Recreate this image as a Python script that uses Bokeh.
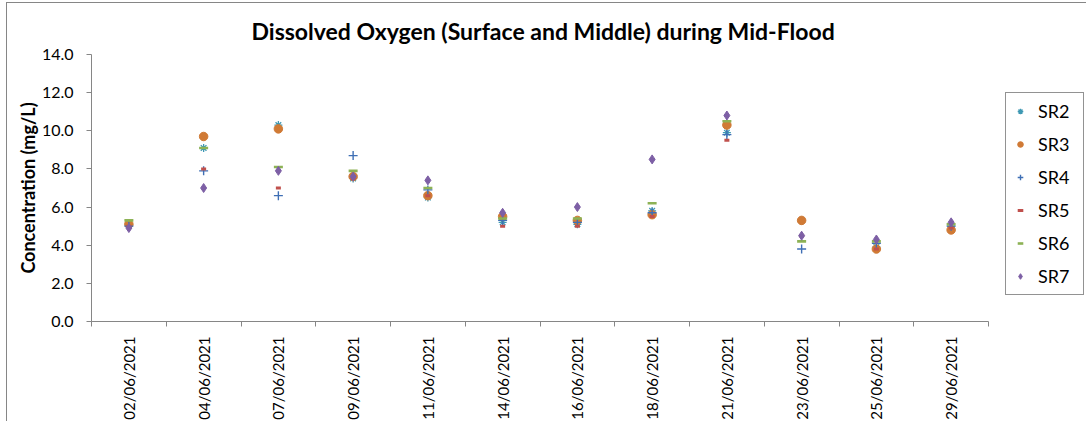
from bokeh.plotting import figure
from bokeh.models import Range1d, FixedTicker, PrintfTickFormatter, Legend, LegendItem, ColumnDataSource
from bokeh.embed import file_html
from bokeh.resources import INLINE
import math

dates = ["02/06/2021", "04/06/2021", "07/06/2021", "09/06/2021", "11/06/2021", "14/06/2021",
         "16/06/2021", "18/06/2021", "21/06/2021", "23/06/2021", "25/06/2021", "29/06/2021"]
SR2 = [5.1, 9.1, 10.3, 7.5, 6.5, 5.2, 5.1, 5.8, 9.9, 5.3, 3.9, 5.0]
SR3 = [5.1, 9.7, 10.1, 7.6, 6.6, 5.5, 5.3, 5.6, 10.3, 5.3, 3.8, 4.8]
SR4 = [5.0, 7.9, 6.6, 8.7, 6.9, 5.3, 5.2, 5.7, 9.8, 3.8, 4.1, 5.0]
SR5 = [5.0, 8.0, 7.0, 7.5, 6.6, 5.0, 5.0, 5.5, 9.5, 4.5, 3.8, 4.9]
SR6 = [5.3, 9.1, 8.1, 7.9, 7.0, 5.4, 5.4, 6.2, 10.5, 4.2, 4.2, 5.1]
SR7 = [4.9, 7.0, 7.9, 7.6, 7.4, 5.7, 6.0, 8.5, 10.8, 4.5, 4.3, 5.2]
series_names = ["SR2", "SR3", "SR4", "SR5", "SR6", "SR7"]
series_values = [SR2, SR3, SR4, SR5, SR6, SR7]
y_ticks = [0, 2, 4, 6, 8, 10, 12, 14]

FONT = "Lato"
AX = "#868686"

x = list(range(len(dates)))
n = len(dates)
# frame spans 994 px; the 12 category slots occupy the left 897 px, the rest holds the legend
x_end = -0.5 + n * 994 / 897

p = figure(width=1080, height=419, output_backend="svg", toolbar_location=None,
           x_range=Range1d(-0.5, x_end), y_range=Range1d(0, 14),
           min_border_left=84, min_border_right=2, min_border_top=51, min_border_bottom=98)
p.outline_line_color = None
p.xgrid.visible = False
p.ygrid.visible = False
p.background_fill_color = "white"

p.title.text = "Dissolved Oxygen (Surface and Middle) during Mid-Flood"
p.title.align = "left"
p.title.offset = 160
p.title.text_font = FONT
p.title.text_font_size = "23px"
p.title.text_font_style = "bold"
p.title.text_color = "black"
p.title.standoff = 20

# y axis
p.yaxis.ticker = FixedTicker(ticks=y_ticks)
p.yaxis.formatter = PrintfTickFormatter(format="%.1f")
p.yaxis.axis_line_color = AX
p.yaxis.major_tick_line_color = AX
p.yaxis.major_tick_out = 5
p.yaxis.major_tick_in = 0
p.yaxis.minor_tick_line_color = None
p.yaxis.major_label_text_font = FONT
p.yaxis.major_label_text_font_size = "16px"
p.yaxis.major_label_text_color = "black"
p.yaxis.major_label_standoff = 13
p.yaxis.axis_label = "Concentration (mg/L)"
p.yaxis.axis_label_text_font = FONT
p.yaxis.axis_label_text_font_size = "18px"
p.yaxis.axis_label_text_font_style = "bold"
p.yaxis.axis_label_text_color = "black"
p.yaxis.axis_label_standoff = 0

# x axis
p.xaxis.bounds = (-0.5, n - 0.5)
p.xaxis.ticker = FixedTicker(ticks=x, minor_ticks=[i - 0.5 for i in range(n + 1)])
p.xaxis.major_label_overrides = {i: d for i, d in enumerate(dates)}
p.xaxis.major_label_orientation = math.pi / 2
p.xaxis.axis_line_color = AX
p.xaxis.major_tick_line_color = None
p.xaxis.minor_tick_line_color = AX
p.xaxis.minor_tick_out = 5
p.xaxis.minor_tick_in = 0
p.xaxis.major_label_text_font = FONT
p.xaxis.major_label_text_font_size = "15px"
p.xaxis.major_label_text_color = "black"
p.xaxis.major_label_standoff = 9

colors = ["#3E98B3", "#D07A35", "#3F6FB5", "#C0504D", "#8DB255", "#7D5FA5"]
markers = ["asterisk", "circle", "cross", "dash", "dash", "diamond"]
sizes = [8, 8.5, 9, 5, 9, 9]
lws = [1.3, 1, 1.4, 3, 2.6, 1]

items = []
for name, vals, c, m, s, lw in zip(series_names, series_values, colors, markers, sizes, lws):
    src = ColumnDataSource(dict(x=x, y=vals))
    fill = c if m in ("circle", "diamond") else None
    r = p.scatter("x", "y", source=src, marker=m, size=s, line_color=c, fill_color=fill,
                  line_width=lw)
    items.append(LegendItem(label=name, renderers=[r]))

legend = Legend(items=items, location=(914, 26), margin=0, padding=7,
                glyph_width=14, glyph_height=14, label_height=20, spacing=11,
                label_standoff=11, label_width=38,
                label_text_font=FONT, label_text_font_size="18px", label_text_color="black",
                border_line_color="#262626", border_line_width=1,
                background_fill_color="white", background_fill_alpha=1)
p.add_layout(legend, "center")

p.styles = {"margin-left": "6px", "margin-top": "2px",
            "border-top": "1px solid #868686", "border-left": "1px solid #868686"}

open("out.html", "w").write(file_html(p, INLINE))
